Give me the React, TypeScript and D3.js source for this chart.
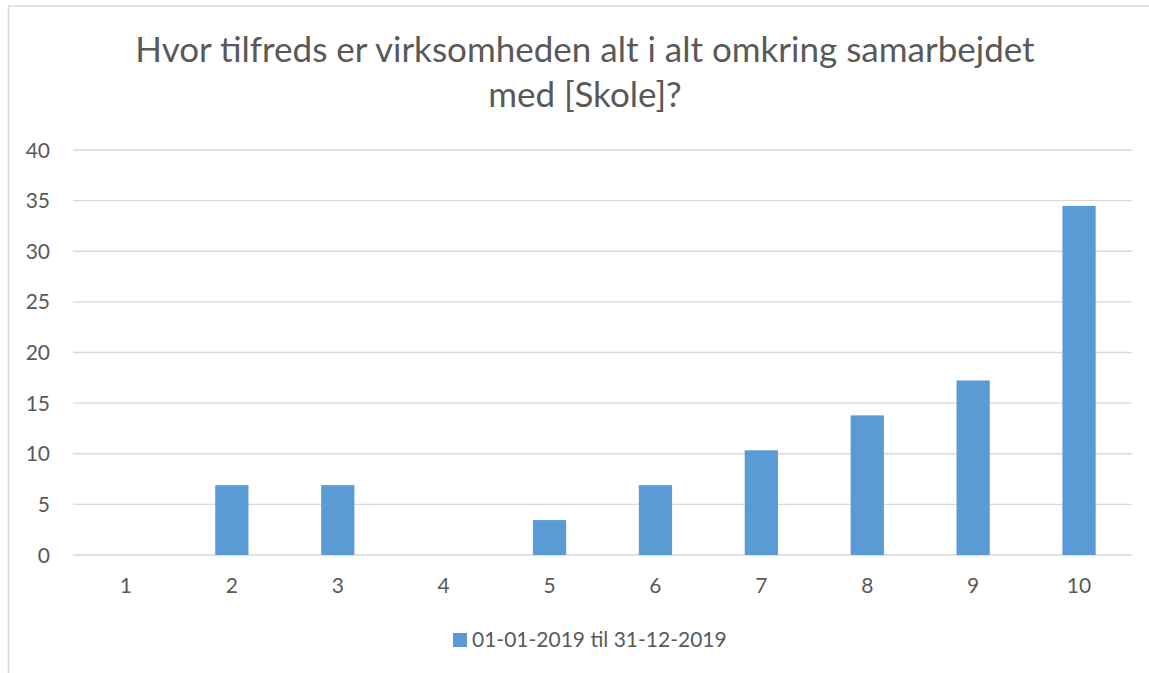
import React from "react";
import * as d3 from "d3";

const categories = ["1", "2", "3", "4", "5", "6", "7", "8", "9", "10"];
const values = [0, 6.9, 6.9, 0, 3.45, 6.9, 10.34, 13.79, 17.24, 34.48];
const yTicks = [0, 5, 10, 15, 20, 25, 30, 35, 40];
const seriesName = "01-01-2019 til 31-12-2019";
const titleLines = ["Hvor tilfreds er virksomheden alt i alt omkring samarbejdet", "med [Skole]?"];

const W = 1149;
const H = 673;
const left = 73;
const right = 1132;
const top = 150;
const bottom = 555;
const font = "Lato, 'Open Sans', sans-serif";
const textColor = "#595959";
const barColor = "#5b9bd5";
const gridColor = "#d9d9d9";

export default function App() {
  const x = d3.scaleBand<string>().domain(categories).range([left, right]).paddingInner(0.686).paddingOuter(0.343);
  const y = d3.scaleLinear().domain([0, 40]).range([bottom, top]);
  return (
    <svg width={W} height={H} style={{ position: "absolute", left: 0, top: 0, background: "#fff" }}>
      <rect x={0} y={0} width={W} height={H} fill="#fff" />
      <path d={`M8.5,${H} V6 H${W}`} fill="none" stroke={gridColor} strokeWidth={1.5} />
      {titleLines.map((t, i) => (
        <text key={i} x={585} y={62 + i * 45} textAnchor="middle" fontFamily={font} fontSize={35} fill={textColor}>
          {t}
        </text>
      ))}
      {yTicks.map((v) => (
        <g key={v}>
          <line x1={left} x2={right} y1={y(v)} y2={y(v)} stroke={gridColor} strokeWidth={1.3} />
          <text x={50} y={y(v) + 7.5} textAnchor="end" fontFamily={font} fontSize={21} fill={textColor}>
            {v}
          </text>
        </g>
      ))}
      {categories.map((c, i) => (
        <rect key={c} x={x(c)!} width={x.bandwidth()} y={y(values[i])} height={y(0) - y(values[i])} fill={barColor} />
      ))}
      {categories.map((c) => (
        <text key={c} x={x(c)! + x.bandwidth() / 2} y={593} textAnchor="middle" fontFamily={font} fontSize={21} fill={textColor}>
          {c}
        </text>
      ))}
      <rect x={453} y={633} width={14} height={14} fill={barColor} />
      <text x={472} y={647} fontFamily={font} fontSize={21} fill={textColor}>
        {seriesName}
      </text>
    </svg>
  );
}
